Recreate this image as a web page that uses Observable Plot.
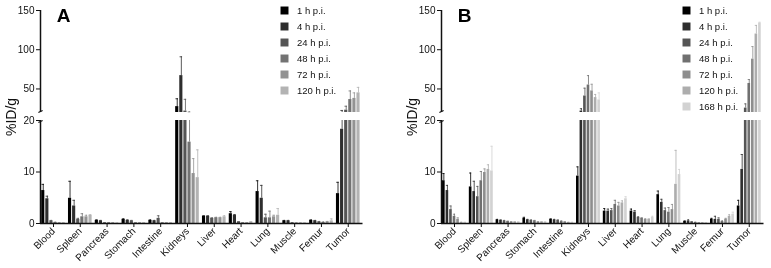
<!DOCTYPE html>
<html><head><meta charset="utf-8">
<script src="https://cdn.jsdelivr.net/npm/d3@7"></script>
<script src="https://cdn.jsdelivr.net/npm/@observablehq/plot@0.6"></script>
<style>
body{margin:0;background:#fff;}
#root{position:relative;width:771px;height:268px;overflow:hidden;filter:grayscale(1);}
#root svg{position:absolute;top:0;}
</style></head><body><div id="root"></div>
<script>
const categories = ["Blood","Spleen","Pancreas","Stomach","Intestine","Kidneys","Liver","Heart","Lung","Muscle","Femur","Tumor"];
const yTicks = [0, 10, 20, 50, 100, 150];

// Panel A
const seriesA = ["1 h p.i.","4 h p.i.","24 h p.i.","48 h p.i.","72 h p.i.","120 h p.i."];
const colorsA = ["#000000","#2e2e2e","#555555","#737373","#939393","#b3b3b3"];
const A_1h    = [6.4, 4.9, 0.6, 0.8, 0.6, 27.5, 1.4, 1.9, 6.2, 0.5, 0.6, 5.8];
const A_1h_sd = [1.2, 3.3, 0.1, 0.1, 0.1, 10, 0.1, 0.4, 2.1, 0.1, 0.1, 2.2];
const A_4h    = [4.8, 3.4, 0.5, 0.6, 0.5, 67, 1.4, 1.55, 4.9, 0.5, 0.5, 18.3];
const A_4h_sd = [0.5, 1.1, 0.1, 0.1, 0.1, 24, 0.1, 0.2, 2.5, 0.1, 0.1, 4.3];
const A_24h    = [0.5, 0.8, 0.1, 0.5, 1.0, 21.8, 1.0, 0.3, 1.1, 0.1, 0.3, 23];
const A_24h_sd = [0.1, 0.2, 0.05, 0.1, 0.5, 15, 0.1, 0.05, 0.7, 0.05, 0.1, 5];
const A_48h    = [0.2, 1.3, 0.1, 0.1, 0.1, 15.8, 1.1, 0.1, 1.1, 0.05, 0.2, 36.5];
const A_48h_sd = [0.05, 0.6, 0.05, 0.05, 0.05, 5, 0.1, 0.05, 1.3, 0.05, 0.1, 11];
const A_72h    = [0.1, 1.3, 0.1, 0.1, 0.1, 9.7, 1.1, 0.1, 1.3, 0.05, 0.3, 38];
const A_72h_sd = [0.05, 0.3, 0.05, 0.05, 0.05, 2.9, 0.1, 0.05, 0.3, 0.05, 0.1, 7];
const A_120h    = [0.1, 1.6, 0.05, 0.1, 0.1, 8.9, 1.3, 0.3, 1.6, 0.05, 0.5, 45];
const A_120h_sd = [0.05, 0.1, 0.05, 0.05, 0.05, 5.4, 0.2, 0.05, 1.3, 0.05, 0.4, 7];

// Panel B
const seriesB = ["1 h p.i.","4 h p.i.","24 h p.i.","48 h p.i.","72 h p.i.","120 h p.i.","168 h p.i."];
const colorsB = ["#000000","#2e2e2e","#555555","#707070","#8e8e8e","#adadad","#d2d2d2"];
const B_1h    = [8.3, 7.1, 0.7, 1.0, 0.8, 9.2, 2.4, 2.4, 5.6, 0.4, 0.8, 3.4];
const B_1h_sd = [1.4, 2.7, 0.1, 0.2, 0.1, 1.8, 0.5, 0.4, 0.7, 0.1, 0.2, 1.1];
const B_4h    = [6.4, 6.2, 0.6, 0.7, 0.7, 21.8, 2.4, 2.2, 4.1, 0.5, 0.8, 10.5];
const B_4h_sd = [1.0, 2.0, 0.1, 0.1, 0.1, 3, 0.4, 0.3, 0.6, 0.2, 0.6, 2.9];
const B_24h    = [2.7, 5.2, 0.5, 0.6, 0.6, 41, 2.5, 1.2, 2.5, 0.3, 0.8, 25.6];
const B_24h_sd = [0.7, 2.0, 0.1, 0.1, 0.1, 10, 0.4, 0.1, 0.5, 0.05, 0.3, 5.4];
const B_48h    = [1.4, 8.3, 0.4, 0.5, 0.4, 55, 3.7, 1.0, 2.2, 0.2, 0.4, 57];
const B_48h_sd = [0.4, 1.8, 0.05, 0.1, 0.1, 12, 0.8, 0.1, 0.9, 0.05, 0.1, 5];
const B_72h    = [0.8, 9.9, 0.3, 0.3, 0.3, 47.5, 3.4, 0.8, 2.7, 0.1, 0.8, 88];
const B_72h_sd = [0.3, 0.7, 0.05, 0.05, 0.05, 8.5, 0.7, 0.1, 1.0, 0.05, 0.2, 16];
const B_120h    = [0.2, 10.5, 0.3, 0.3, 0.2, 39, 4.0, 0.8, 7.6, 0.1, 1.4, 120];
const B_120h_sd = [0.05, 0.9, 0.05, 0.05, 0.05, 4, 0.4, 0.1, 6.6, 0.05, 0.3, 11];
const B_168h    = [0.2, 10.2, 0.3, 0.3, 0.2, 36, 4.8, 1.2, 9.5, 0.1, 1.8, 134];
const B_168h_sd = [0.05, 4.8, 0.05, 0.05, 0.05, 9, 0.4, 0.2, 1.0, 0.05, 0.4, 1];

const FONT = "'Liberation Sans', Arial, Helvetica, sans-serif";
const BREAK = 20, UB = 20.0001;
const xMin = -0.485, xMax = 11.55;

function panel(letter, series, colors, means, sds, step, bw) {
  const n = series.length;
  const rows = [];
  series.forEach((s, j) => categories.forEach((c, i) => {
    rows.push({cat: c, series: s, v: means[j][i], sd: sds[j][i], x: i + (j - (n - 1) / 2) * step});
  }));
  const lower = rows.map(d => ({...d, y1: 0, y2: Math.min(d.v, BREAK)}));
  const upper = rows.filter(d => d.v > BREAK).map(d => ({...d, y1: UB, y2: d.v}));
  const errLow = rows.filter(d => d.v < BREAK).map(d => ({...d, y1: d.v, y2: Math.min(d.v + d.sd, BREAK)}));
  const errUp = rows.filter(d => d.v + d.sd > BREAK).map(d => ({...d, y1: Math.max(d.v, UB), y2: d.v + d.sd}));
  const cw = bw * 0.8;
  return Plot.plot({
    width: 371, height: 268,
    marginLeft: 40, marginRight: 8.5, marginTop: 10, marginBottom: 45,
    style: {fontFamily: FONT, fontSize: "10px", color: "#111", background: "transparent", overflow: "visible"},
    x: {domain: [xMin, xMax], ticks: d3.range(categories.length), tickFormat: i => categories[i],
        tickRotate: -45, tickSize: 4, tickPadding: 2, label: null},
    y: {type: "linear", domain: [0, BREAK, UB, 150], range: [223, 120, 112, 10],
        ticks: yTicks, tickSize: 4, tickPadding: 2, label: null},
    color: {domain: series, range: colors},
    marks: [
      Plot.rect(lower, {x1: d => d.x - bw / 2, x2: d => d.x + bw / 2, y1: "y1", y2: "y2", fill: "series"}),
      Plot.rect(upper, {x1: d => d.x - bw / 2, x2: d => d.x + bw / 2, y1: "y1", y2: "y2", fill: "series"}),
      Plot.ruleX(errLow, {x: "x", y1: "y1", y2: "y2", stroke: "series", strokeWidth: 0.8}),
      Plot.ruleX(errUp, {x: "x", y1: "y1", y2: "y2", stroke: "series", strokeWidth: 0.8}),
      Plot.ruleY(rows, {y: d => d.v + d.sd, x1: d => d.x - cw / 2, x2: d => d.x + cw / 2, stroke: "series", strokeWidth: 0.8}),
      Plot.ruleY([0], {stroke: "#111", strokeWidth: 1.5}),
      Plot.ruleX([{y1: 0, y2: BREAK}, {y1: UB, y2: 150}], {x: () => xMin, y1: "y1", y2: "y2", stroke: "#111", strokeWidth: 1.5}),
      Plot.link([{x1: xMin - 0.08, y1: 19.6, x2: xMin + 0.08, y2: BREAK}, {x1: xMin - 0.08, y1: UB, x2: xMin + 0.08, y2: 22.5}],
        {x1: "x1", y1: "y1", x2: "x2", y2: "y2", stroke: "#111", strokeWidth: 1.2}),
      Plot.text([letter], {frameAnchor: "top-left", dx: 23, dy: 5, text: d => d, fontSize: 19, fontWeight: "bold", textAnchor: "middle", lineAnchor: "middle", fill: "#000"}),
      Plot.text(["%ID/g"], {frameAnchor: "left", dx: -29, text: d => d, rotate: -90, fontSize: 14, textAnchor: "middle", lineAnchor: "middle", fill: "#111"})
    ]
  });
}

function legend(series, colors, bottom) {
  return Plot.plot({
    width: 100, height: bottom + 10, margin: 0,
    style: {fontFamily: FONT, fontSize: "9.5px", color: "#111", background: "transparent", overflow: "visible"},
    x: {domain: [0, 1], range: [4, 100], axis: null},
    y: {type: "point", domain: series, range: [10, bottom], padding: 0, axis: null},
    color: {domain: series, range: colors},
    marks: [
      Plot.dot(series, {x: () => 0, y: d => d, fill: d => d, symbol: "square", r: 4.5}),
      Plot.text(series, {x: () => 0, y: d => d, text: d => d, dx: 12.5, textAnchor: "start", fontSize: 9.5, fill: "#111"})
    ]
  });
}

const root = document.getElementById("root");
const pA = panel("A", seriesA, colorsA,
  [A_1h, A_4h, A_24h, A_48h, A_72h, A_120h],
  [A_1h_sd, A_4h_sd, A_24h_sd, A_48h_sd, A_72h_sd, A_120h_sd], 0.153, 0.117);
pA.style.left = "0px";
const pB = panel("B", seriesB, colorsB,
  [B_1h, B_4h, B_24h, B_48h, B_72h, B_120h, B_168h],
  [B_1h_sd, B_4h_sd, B_24h_sd, B_48h_sd, B_72h_sd, B_120h_sd, B_168h_sd], 0.1325, 0.098);
pB.style.left = "401px";
const lA = legend(seriesA, colorsA, 90); lA.style.left = "280px";
const lB = legend(seriesB, colorsB, 106); lB.style.left = "682px";
root.append(pA, pB, lA, lB);
</script></body></html>
